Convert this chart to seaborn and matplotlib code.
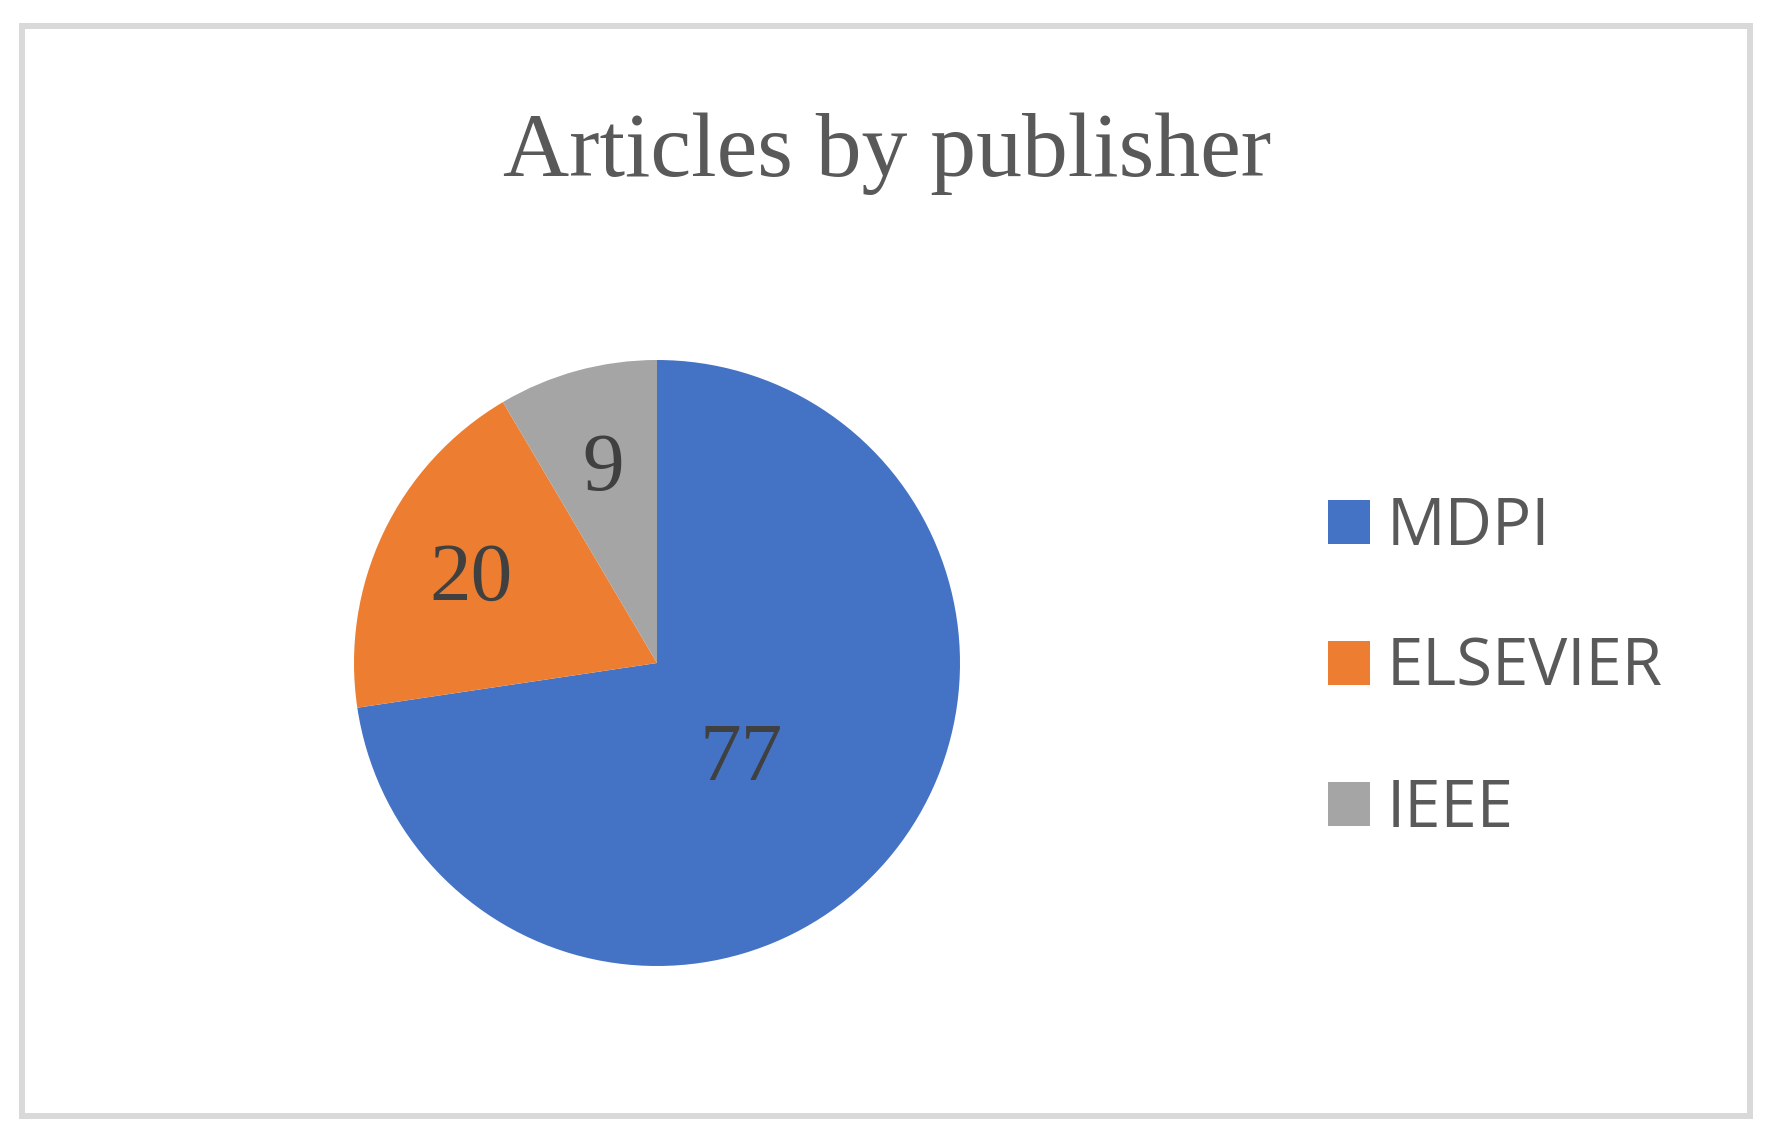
import matplotlib
matplotlib.use('Agg')
import matplotlib.pyplot as plt
import seaborn as sns
from matplotlib.patches import Rectangle, Patch

# Data
publishers = ['MDPI', 'ELSEVIER', 'IEEE']
articles = [77, 20, 9]
colors = ['#4472C4', '#ED7D31', '#A5A5A5']

sns.set_theme(style='white')

W, H = 1776, 1144
fig = plt.figure(figsize=(W / 100, H / 100), dpi=100)
fig.patch.set_facecolor('white')

# Outer chart border
fig.add_artist(Rectangle((22 / W, 1 - 1115.5 / H), (1749.5 - 22) / W, (1115.5 - 25.5) / H,
                         transform=fig.transFigure, fill=False, edgecolor='#D9D9D9', linewidth=4.3))

# Pie axes
cx, cy, r = 657, 663, 303
ax = fig.add_axes([(cx - r) / W, (H - cy - r) / H, 2 * r / W, 2 * r / H])
wedges, texts, autotexts = ax.pie(
    articles, colors=colors, startangle=90, counterclock=False,
    autopct=lambda p: f'{round(p * sum(articles) / 100):d}', pctdistance=0.68,
    wedgeprops={'linewidth': 0},
    textprops={'fontsize': 60, 'color': '#404040', 'family': 'Liberation Serif'})
# the big slice label sits closer to the center
x, y = autotexts[0].get_position()
autotexts[0].set_position((x * 0.54, y * 0.72))
# nudge the small-slice labels down a touch (digit glyphs sit high in their box)
for t in autotexts[1:]:
    x, y = t.get_position()
    t.set_position((x, y - 0.02))
ax.set_xlim(-1, 1)
ax.set_ylim(-1, 1)
ax.set_aspect('equal')
ax.axis('off')

fig.text(887 / W, 1 - 176 / H, 'Articles by publisher', ha='center', va='baseline',
         fontsize=66, color='#595959', family='Liberation Serif')

handles = [Patch(facecolor=c, edgecolor='none') for c in colors]
leg = fig.legend(handles, publishers, loc='center left', bbox_to_anchor=(1295 / W, 1 - 669 / H),
                 frameon=False, fontsize=47, handlelength=0.65, handleheight=0.65,
                 handletextpad=0.26, labelspacing=1.15, borderpad=0)
for t in leg.get_texts():
    t.set_color('#595959')
    t.set_family('Open Sans')

fig.savefig('out.png', dpi=100)
